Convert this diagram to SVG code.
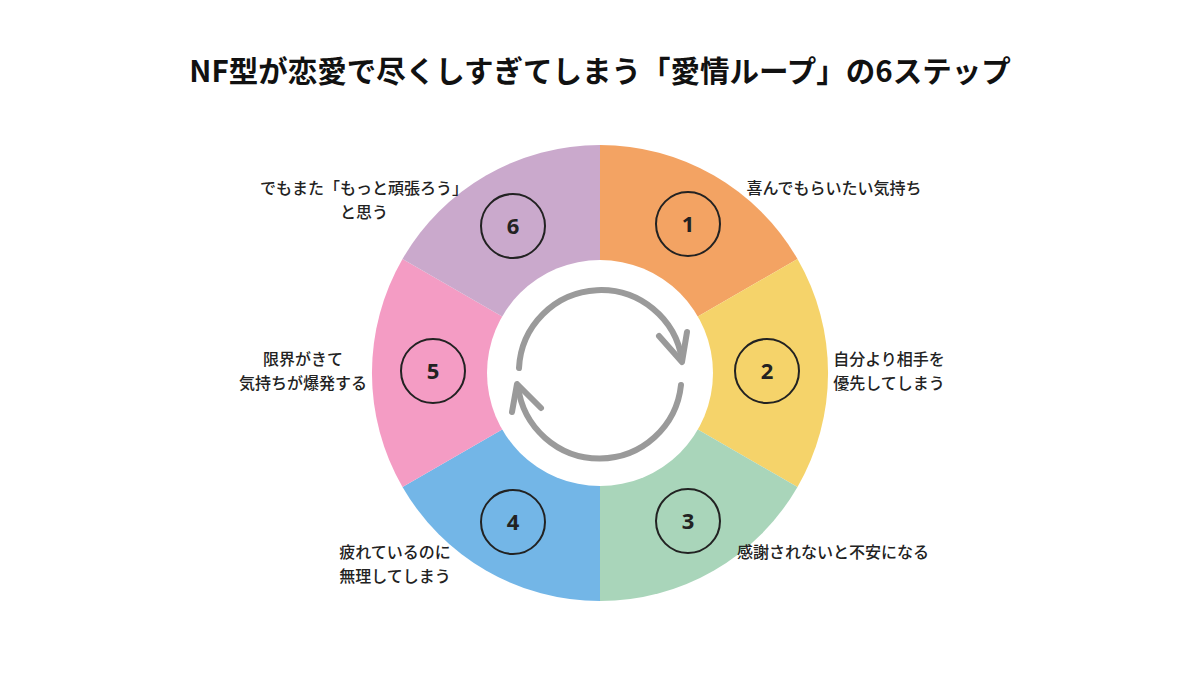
<svg xmlns="http://www.w3.org/2000/svg" width="1200" height="675" viewBox="0 0 1200 675">
<style>
.t{font-family:"Noto Sans CJK JP","Noto Sans",sans-serif;font-size:16px;font-weight:500;fill:#222;text-anchor:middle}
.n{font-family:"Noto Sans","Noto Sans CJK JP",sans-serif;font-size:22px;font-weight:700;fill:#222;text-anchor:middle}
.c{fill:none;stroke:#222;stroke-width:2}
.a{fill:none;stroke:#9a9a9a;stroke-width:6;stroke-linecap:round;stroke-linejoin:round}
</style>
<rect width="1200" height="675" fill="#fff"/>
<text x="600" y="82" style="font-family:'Noto Sans CJK JP','Noto Sans',sans-serif;font-size:29.5px;font-weight:700;fill:#111;text-anchor:middle">NF型が恋愛で尽くしすぎてしまう「愛情ループ」の6ステップ</text>
<g id="ring">
<path d="M600,373 L600,145 A228,228 0 0 1 797.5,259 Z" fill="#F3A363"/>
<path d="M600,373 L797.5,259 A228,228 0 0 1 797.5,487 Z" fill="#F5D36A"/>
<path d="M600,373 L797.5,487 A228,228 0 0 1 600,601 Z" fill="#A9D5BA"/>
<path d="M600,373 L600,601 A228,228 0 0 1 402.5,487 Z" fill="#73B6E7"/>
<path d="M600,373 L402.5,487 A228,228 0 0 1 402.5,259 Z" fill="#F49CC4"/>
<path d="M600,373 L402.5,259 A228,228 0 0 1 600,145 Z" fill="#CAA9CC"/>
<circle cx="600" cy="373" r="113" fill="#fff"/>
</g>
<g id="cycle">
<path class="a" d="M519,368 A82,82 0 0 1 682,360"/>
<path class="a" d="M659,336 L682,362 L687,332"/>
<path class="a" d="M681,385 A82,82 0 0 1 518,386"/>
<path class="a" d="M512,412 L517,384 L541,408"/>
</g>
<g id="step1"><circle class="c" cx="688" cy="224" r="32"/><text class="n" x="688" y="232">1</text><text class="t" x="834" y="194">喜んでもらいたい気持ち</text></g>
<g id="step2"><circle class="c" cx="767" cy="371" r="32"/><text class="n" x="767" y="379">2</text><text class="t" x="889" y="365">自分より相手を</text><text class="t" x="889" y="389">優先してしまう</text></g>
<g id="step3"><circle class="c" cx="688" cy="521" r="32"/><text class="n" x="688" y="529">3</text><text class="t" x="833" y="558">感謝されないと不安になる</text></g>
<g id="step4"><circle class="c" cx="513" cy="522" r="32"/><text class="n" x="513" y="530">4</text><text class="t" x="395" y="558">疲れているのに</text><text class="t" x="395" y="582">無理してしまう</text></g>
<g id="step5"><circle class="c" cx="433" cy="371" r="32"/><text class="n" x="433" y="379">5</text><text class="t" x="303" y="365">限界がきて</text><text class="t" x="303" y="389">気持ちが爆発する</text></g>
<g id="step6"><circle class="c" cx="513" cy="226" r="32"/><text class="n" x="513" y="234">6</text><text class="t" x="364" y="194">でもまた「もっと頑張ろう」</text><text class="t" x="364" y="218">と思う</text></g>
</svg>
